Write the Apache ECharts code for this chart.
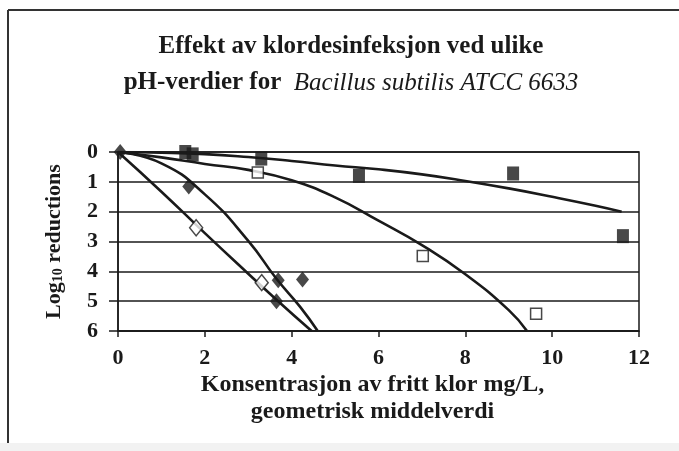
<!DOCTYPE html>
<html><head><meta charset="utf-8">
<script src="https://cdn.jsdelivr.net/npm/echarts@6/dist/echarts.min.js"></script>
<style>html,body{margin:0;padding:0;background:#fff}#c{width:679px;height:451px}</style>
</head><body><div id="c"></div>
<script>
// x tick labels / y tick labels
const xTicks = [0, 2, 4, 6, 8, 10, 12];
const yTicks = [0, 1, 2, 3, 4, 5, 6];

// Measured points: [concentration, log10 reduction]
const filledSquares = [[1.55, 0.0], [1.72, 0.08], [3.3, 0.22], [5.55, 0.8], [9.1, 0.72], [11.63, 2.82]];
const openSquares = [[3.22, 0.69], [7.02, 3.49], [9.63, 5.42]];
const filledDiamonds = [[0.05, 0.0], [1.63, 1.16], [3.69, 4.3], [4.25, 4.27], [3.65, 5.0]];
const openDiamonds = [[1.8, 2.54], [3.31, 4.38]];

// Fitted curves
const curveFilledSquares = [[0, 0], [1, 0.02], [2, 0.07], [3, 0.17], [4, 0.3], [5, 0.45], [6, 0.58], [7, 0.75], [8, 0.97], [9, 1.22], [10, 1.5], [11, 1.8], [11.6, 2.0]];
const curveOpenSquares = [[0, 0], [1, 0.18], [2, 0.4], [3, 0.6], [4, 0.95], [5, 1.52], [6, 2.3], [7, 3.12], [8, 4.1], [9, 5.3], [9.42, 6.0]];
const curveFilledDiamonds = [[0, 0], [1, 0.38], [2, 1.42], [3, 2.98], [3.65, 4.25], [4.2, 5.2], [4.6, 6.0]];
const curveOpenDiamonds = [[0, 0], [1, 1.33], [2, 2.72], [3, 4.08], [3.65, 4.95], [4.46, 6.0]];

const serif = '"Liberation Serif", "DejaVu Serif", serif';
const ink = '#1a1a1a';
const chart = echarts.init(document.getElementById('c'));

const lineStyle = { color: ink, width: 2.6 };
function curve(d) {
  return { type: 'line', data: d, smooth: true, showSymbol: false, symbol: 'none', lineStyle: lineStyle, z: 3, silent: true, animation: false };
}

chart.setOption({
  animation: false,
  backgroundColor: '#fff',
  title: {
    text: 'Effekt av klordesinfeksjon ved ulike\n{n|pH-verdier for  }{i|Bacillus subtilis ATCC 6633}',
    left: 346, top: 24, textAlign: 'center',
    textStyle: {
      fontFamily: serif, fontSize: 25, fontWeight: 'bold', color: ink, lineHeight: 36, align: 'center',
      rich: {
        n: { fontFamily: serif, fontSize: 25, fontWeight: 'bold', color: ink, lineHeight: 36 },
        i: { fontFamily: serif, fontSize: 25, fontStyle: 'italic', fontWeight: 'normal', color: ink, lineHeight: 36 }
      }
    }
  },
  grid: { left: 118, right: 40, top: 152, bottom: 120, show: true, borderColor: ink, borderWidth: 1.5, backgroundColor: 'transparent' },
  xAxis: {
    type: 'value', position: 'bottom', min: xTicks[0], max: xTicks[xTicks.length - 1], interval: 2,
    axisLine: { show: true, onZero: false, lineStyle: { color: ink, width: 1.5 } },
    axisTick: { show: true, inside: false, length: 6, lineStyle: { color: ink, width: 1.5 } },
    splitLine: { show: false },
    axisLabel: { fontFamily: serif, fontSize: 22, fontWeight: 'bold', color: ink, margin: 16 },
    name: '{a|Konsentrasjon av fritt klor mg/L,}\n{a|geometrisk middelverdi}',
    nameLocation: 'middle', nameGap: 40,
    nameTextStyle: { fontFamily: serif, fontSize: 24, fontWeight: 'bold', color: ink, lineHeight: 27, align: 'center',
      padding: [0, 12, 0, 0],
      rich: { a: { fontFamily: serif, fontSize: 24, fontWeight: 'bold', color: ink, lineHeight: 27 } } }
  },
  yAxis: {
    type: 'value', inverse: true, min: yTicks[0], max: yTicks[yTicks.length - 1], interval: 1,
    axisLine: { show: true, lineStyle: { color: ink, width: 1.5 } },
    axisTick: { show: true, inside: false, length: 9, lineStyle: { color: ink, width: 1.5 } },
    splitLine: { show: true, lineStyle: { color: ink, width: 1.5 } },
    axisLabel: { fontFamily: serif, fontSize: 22, fontWeight: 'bold', color: ink, margin: 20 },
    name: '{a|Log}{s|10}{a| reductions}',
    nameLocation: 'middle', nameGap: 53, nameRotate: 90,
    nameTextStyle: { fontFamily: serif, fontSize: 22, fontWeight: 'bold', color: ink,
      rich: { a: { fontFamily: serif, fontSize: 22, fontWeight: 'bold', color: ink },
              s: { fontFamily: serif, fontSize: 14, fontWeight: 'bold', color: ink, verticalAlign: 'bottom', padding: [8, 0, 0, 0] } } }
  },
  graphic: [
    { type: 'rect', shape: { x: 0, y: 443, width: 679, height: 8 }, style: { fill: '#f2f2f2' }, z: -1 },
    { type: 'line', shape: { x1: 8, y1: 10, x2: 679, y2: 10 }, style: { stroke: '#333', lineWidth: 2 } },
    { type: 'line', shape: { x1: 8, y1: 10, x2: 8, y2: 443 }, style: { stroke: '#333', lineWidth: 2 } }
  ],
  series: [
    curve(curveFilledSquares),
    curve(curveOpenSquares),
    curve(curveFilledDiamonds),
    curve(curveOpenDiamonds),
    { type: 'scatter', data: filledSquares, symbol: 'rect', symbolSize: [12, 14], itemStyle: { color: ink }, z: 5 },
    { type: 'scatter', data: openSquares, symbol: 'rect', symbolSize: [11, 11], itemStyle: { color: '#fff', borderColor: ink, borderWidth: 1.5 }, z: 5 },
    { type: 'scatter', data: filledDiamonds, symbol: 'diamond', symbolSize: [13, 16], itemStyle: { color: ink }, z: 5 },
    { type: 'scatter', data: openDiamonds, symbol: 'diamond', symbolSize: [13, 16], itemStyle: { color: '#fff', borderColor: ink, borderWidth: 1.5 }, z: 5 }
  ]
});
</script></body></html>
